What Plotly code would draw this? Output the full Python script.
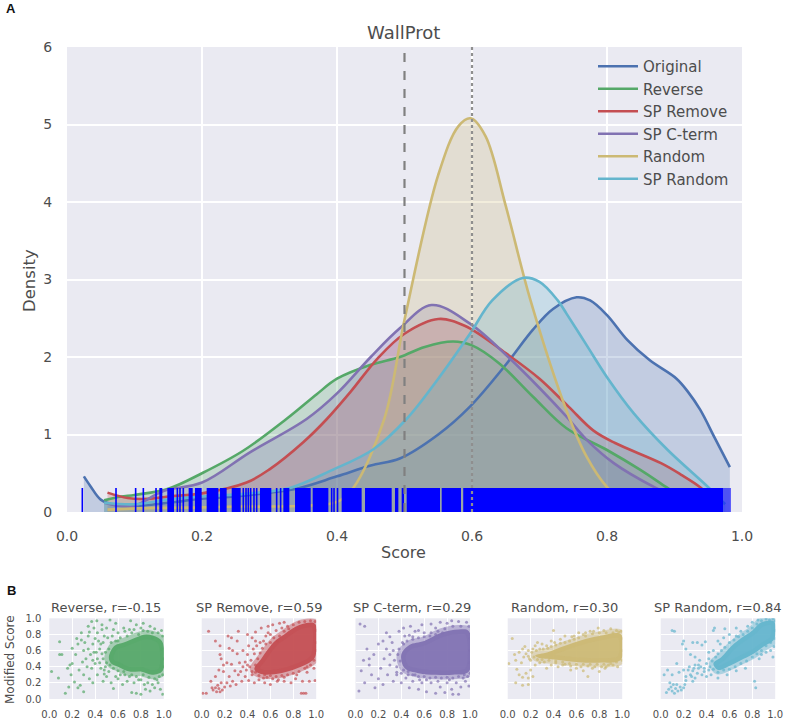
import plotly.graph_objects as go

W, H = 787, 722
COL = dict(Original="#4C72B0", Reverse="#55A868", SPRemove="#C44E52", SPCterm="#8172B2", Random="#CCB974", SPRandom="#64B5CD")

original_curve = [(.025,.46),(.035,.33),(.05,.16),(.07,.09),(.09,.07),(.12,.09),(.16,.13),(.2,.17),(.25,.2),(.3,.25),(.34,.3),(.4,.46),(.45,.6),(.493,.69),(.55,1.0),(.597,1.36),(.65,1.9),(.69,2.35),(.72,2.62),(.755,2.77),(.775,2.73),(.8,2.54),(.83,2.22),(.863,1.96),(.903,1.72),(.92,1.55),(.938,1.32),(.96,.95),(.982,.58)]
reverse_curve = [(.055,.15),(.08,.2),(.1,.22),(.15,.3),(.2,.5),(.261,.79),(.325,1.2),(.37,1.52),(.4,1.72),(.45,1.9),(.493,2.0),(.53,2.13),(.572,2.2),(.6,2.15),(.64,1.92),(.69,1.49),(.74,1.08),(.8,.8),(.85,.54),(.888,.32),(.92,.14),(.95,.03)]
spremove_curve = [(.06,.25),(.09,.18),(.12,.17),(.15,.2),(.2,.24),(.266,.38),(.3,.55),(.35,.9),(.385,1.2),(.42,1.55),(.46,1.98),(.5,2.3),(.55,2.49),(.59,2.4),(.65,2.05),(.7,1.72),(.743,1.36),(.78,1.05),(.812,.89),(.88,.63),(.91,.48),(.938,.32),(.965,.1)]
spcterm_curve = [(.055,.12),(.08,.08),(.1,.08),(.143,.27),(.2,.38),(.271,.77),(.355,1.2),(.4,1.53),(.45,2.0),(.493,2.37),(.54,2.67),(.597,2.43),(.656,1.98),(.7,1.6),(.74,1.23),(.77,.93),(.81,.63),(.87,.32),(.92,.12),(.95,.03)]
random_curve = [(.06,.03),(.12,.05),(.2,.06),(.25,.07),(.3,.07),(.35,.08),(.4,.13),(.424,.31),(.47,1.2),(.5,2.48),(.55,4.35),(.58,4.98),(.598,5.08),(.62,4.85),(.65,3.95),(.6867,2.73),(.74,1.31),(.77,.71),(.8,.32),(.83,.1),(.87,.02)]
sprandom_curve = [(.055,.12),(.1,.1),(.15,.16),(.2,.2),(.27,.24),(.33,.31),(.39,.53),(.454,.81),(.503,1.2),(.55,1.72),(.597,2.3),(.63,2.73),(.675,3.02),(.7,2.97),(.727,2.73),(.74,2.56),(.77,2.15),(.8,1.74),(.84,1.27),(.89,.8),(.95,.32),(.975,.1)]

rug_ticks = [.0227,.0726,.1017,.1131,.1319,.1635,.1674,.1723,.2612,.2652,.2686,.2721,.2770,.2810,.3106,.3165,.3921,.3956]
rug_span_start = [.1368,.1486,.1802,.1896,.2069,.2267,.2440,.2859,.3205,.3378,.3640,.3995,.4069,.4415,.4859,.4958,.5032,.5551,.587]
rug_span_end = [.1412,.1585,.1862,.1995,.2242,.2365,.2573,.3027,.3294,.3610,.3872,.4020,.4365,.4810,.4909,.4993,.5526,.5837,.9723]
rug_sparse_start = [.9723]
rug_sparse_end = [.9837]

reverse_core = [(.52,.52),(.57,.66),(.65,.7),(.75,.76),(.85,.8),(.95,.76),(.99,.7),(.99,.35),(.9,.3),(.8,.34),(.7,.34),(.6,.4),(.54,.44)]
reverse_pts = [(.02,.34),(.08,.26),(.09,.71),(.09,.55),(.11,.55),(.14,.07),(.17,.15),(.18,.42),(.2,.63),(.24,.75),(.27,.17),(.3,.09),(.34,.9),(.37,.96),(.415,.97),(.53,.98),(.71,.97),(.82,.94),(.16,.38),(.19,.3),(.22,.21),(.25,.14),(.2,.44),(.23,.55),(.25,.68),(.28,.73),(.3,.6),(.32,.5),(.26,.36),(.3,.3),(.35,.25),(.38,.2),(.33,.4),(.36,.55),(.38,.68),(.4,.75),(.34,.78),(.42,.82),(.46,.86),(.5,.88),(.44,.62),(.42,.5),(.45,.38),(.42,.3),(.47,.22),(.5,.28),(.54,.2),(.56,.13),(.6,.25),(.64,.18),(.68,.22),(.72,.08),(.76,.07),(.8,.06),(.84,.12),(.88,.1),(.92,.14),(.97,.12),(.99,.06),(.95,.2),(.74,.2),(.86,.2),(.56,.86),(.6,.82),(.65,.88),(.7,.86),(.76,.92),(.88,.9),(.92,.87),(.98,.85),(.52,.34),(.47,.7),(.37,.38),(.4,.44),(.29,.46),(.31,.7),(.28,.82),(.46,.92),(.58,.94),(.62,.3),(.66,.3),(.78,.24),(.83,.18),(.9,.18),(.35,.83),(.39,.88),(.43,.72),(.51,.76),(.48,.31),(.44,.45),
 (.47,.5),(.49,.58),(.5,.45),(.46,.56),(.52,.62),(.54,.7),(.58,.72),(.62,.76),(.68,.78),(.72,.82),(.78,.8),(.82,.85),(.86,.84),(.9,.82),(.95,.82),(.99,.78),(.98,.62),(1,.5),(1,.4),(.99,.3),(.96,.28),(.92,.25),(.87,.27),(.82,.3),(.76,.28),(.7,.28),(.65,.34),(.6,.35),(.56,.38),(.53,.42),(.49,.4),(.41,.58),(.38,.48),(.34,.62),(.45,.68),(.48,.78),(.55,.78),(.6,.72),(.66,.84),(.74,.86),(.8,.88),(.9,.76),(.94,.24),(.8,.24),(.72,.3),(.58,.28),(.48,.36),(.39,.58)]
spremove_core = [(.46,.37),(.52,.5),(.58,.62),(.64,.72),(.72,.8),(.8,.88),(.88,.93),(.99,.93),(.99,.52),(.94,.45),(.85,.39),(.75,.34),(.65,.31),(.52,.31)]
spremove_pts = [(.01,.07),(.04,.07),(.06,.84),(.12,.72),(.16,.66),(.16,.55),(.17,.5),(.23,.78),(.26,.76),(.31,.72),(.32,.84),(.4,.8),(.44,.76),(.47,.72),(.52,.88),(.58,.9),(.62,.92),(.68,.94),(.72,.95),(.75,.9),(.1,.11),(.12,.14),(.14,.17),(.16,.09),(.18,.11),(.15,.13),(.13,.09),(.2,.15),(.09,.14),(.17,.2),(.08,.22),(.12,.28),(.19,.34),(.22,.2),(.25,.16),(.27,.22),(.24,.28),(.3,.18),(.32,.3),(.29,.35),(.26,.43),(.22,.45),(.19,.42),(.15,.36),(.33,.45),(.36,.4),(.31,.56),(.27,.6),(.24,.63),(.36,.6),(.4,.55),(.41,.66),(.45,.62),(.38,.28),(.41,.23),(.46,.2),(.5,.24),(.55,.2),(.6,.18),(.66,.22),(.72,.22),(.78,.2),(.88,.22),(.94,.22),(.99,.23),(.82,.25),(.87,.07),(.89,.07),(.91,.07),(.47,.83),(.51,.7),(.56,.78),(.6,.8),(.65,.85),(.35,.22),(.39,.36),(.44,.3),(.98,.38),(.92,.33),(.72,.27),(.62,.25),(.54,.26),(.48,.66),(.43,.48),
 (.42,.4),(.44,.34),(.47,.42),(.49,.5),(.51,.57),(.53,.63),(.56,.68),(.6,.7),(.63,.76),(.68,.78),(.72,.84),(.76,.87),(.8,.92),(.85,.95),(.9,.96),(.95,.97),(.99,.96),(1,.85),(1,.7),(1,.6),(.98,.48),(.95,.42),(.9,.38),(.85,.34),(.8,.32),(.75,.3),(.7,.29),(.65,.28),(.6,.29),(.55,.3),(.5,.29),(.47,.33),(.4,.42),(.38,.46),(.46,.56),(.34,.34),(.54,.72),(.58,.82),(.66,.72),(.7,.88),(.83,.3),(.92,.4),(.57,.27),(.67,.24)]
spcterm_core = [(.4,.55),(.47,.67),(.6,.72),(.75,.82),(.9,.86),(.99,.84),(.99,.34),(.85,.3),(.7,.3),(.55,.32),(.43,.38)]
spcterm_pts = [(.03,.1),(.05,.35),(.08,.2),(.07,.48),(.1,.62),(.12,.5),(.14,.3),(.17,.14),(.2,.25),(.04,.93),(.08,.9),(.12,.42),(.16,.55),(.2,.68),(.22,.38),(.24,.18),(.25,.5),(.27,.62),(.28,.3),(.3,.42),(.32,.7),(.3,.77),(.33,.22),(.36,.3),(.27,.82),(.38,.84),(.42,.88),(.43,.78),(.48,.9),(.52,.84),(.58,.92),(.6,.82),(.66,.93),(.7,.88),(.74,.95),(.8,.94),(.84,.97),(.9,.96),(.97,.95),(.4,.2),(.44,.26),(.47,.14),(.5,.22),(.55,.12),(.58,.2),(.62,.09),(.66,.2),(.7,.07),(.74,.15),(.78,.08),(.8,.2),(.84,.12),(.88,.2),(.92,.15),(.96,.22),(.99,.16),(.9,.06),(.85,.06),(.52,.3),(.34,.48),(.36,.4),(.42,.68),(.5,.77),(.65,.78),(.94,.26),(.98,.28),(.72,.22),(.46,.3),(.3,.55),(.24,.72),
 (.37,.55),(.39,.47),(.38,.62),(.41,.7),(.45,.72),(.5,.74),(.55,.76),(.6,.77),(.66,.82),(.72,.84),(.78,.87),(.85,.9),(.92,.9),(.99,.9),(1,.75),(1,.6),(1,.45),(1,.32),(.95,.3),(.9,.28),(.85,.26),(.8,.27),(.75,.26),(.7,.27),(.65,.26),(.6,.28),(.55,.28),(.5,.3),(.46,.34),(.42,.36),(.4,.32),(.36,.33),(.33,.6),(.76,.82),(.82,.24),(.62,.24),(.56,.24),(.47,.79),(.55,.85),(.7,.8)]
random_core = [(.24,.54),(.35,.58),(.5,.66),(.65,.73),(.8,.78),(.99,.8),(.99,.49),(.8,.45),(.6,.46),(.4,.49),(.27,.51)]
random_pts = [(.01,.44),(.04,.75),(.06,.55),(.07,.48),(.08,.37),(.1,.3),(.07,.2),(.13,.17),(.18,.18),(.13,.27),(.16,.32),(.18,.26),(.2,.36),(.22,.28),(.1,.58),(.12,.45),(.14,.52),(.13,.62),(.15,.65),(.18,.6),(.2,.48),(.24,.42),(.28,.45),(.3,.68),(.24,.66),(.26,.7),(.34,.66),(.38,.72),(.4,.85),(.41,.7),(.46,.74),(.5,.78),(.48,.42),(.44,.4),(.38,.42),(.34,.38),(.55,.36),(.6,.38),(.66,.35),(.7,.28),(.8,.34),(.85,.38),(.58,.78),(.62,.82),(.66,.8),(.72,.84),(.79,.88),(.84,.85),(.9,.87),(.95,.85),(.99,.84),(.92,.42),(.96,.4),(.74,.38),(.55,.41),(.32,.46),(.22,.62),(.18,.53),(.42,.45),(.75,.84),(.82,.4),(.88,.42),
 (.16,.56),(.19,.5),(.21,.58),(.25,.6),(.28,.62),(.31,.62),(.35,.63),(.38,.65),(.42,.67),(.46,.69),(.5,.7),(.54,.72),(.58,.74),(.62,.76),(.68,.78),(.74,.81),(.8,.82),(.86,.82),(.92,.82),(.97,.83),(1,.75),(1,.6),(1,.48),(.95,.46),(.9,.44),(.84,.43),(.78,.43),(.72,.43),(.66,.43),(.6,.43),(.54,.44),(.48,.46),(.42,.47),(.36,.48),(.3,.49),(.26,.49),(.23,.52),(.7,.41),(.64,.4),(.5,.43),(.76,.4),(.86,.4),(.68,.82),(.56,.77)]
sprandom_core = [(.46,.44),(.53,.52),(.62,.66),(.72,.77),(.8,.85),(.88,.95),(.99,.96),(.99,.74),(.9,.65),(.8,.55),(.7,.48),(.6,.41),(.5,.36)]
sprandom_pts = [(.05,.08),(.07,.12),(.09,.15),(.1,.1),(.12,.07),(.13,.13),(.15,.1),(.17,.15),(.18,.11),(.2,.14),(.11,.18),(.08,.2),(.14,.18),(.21,.18),(.03,.3),(.06,.36),(.1,.3),(.14,.44),(.16,.33),(.2,.36),(.22,.28),(.26,.3),(.28,.35),(.3,.26),(.25,.4),(.3,.42),(.33,.38),(.28,.22),(.22,.23),(.32,.32),(.35,.4),(.36,.3),(.34,.48),(.38,.34),(.4,.28),(.3,.52),(.26,.55),(.22,.62),(.19,.68),(.2,.72),(.28,.7),(.32,.7),(.36,.67),(.39,.71),(.1,.85),(.12,.84),(.47,.88),(.46,.85),(.56,.87),(.66,.88),(.5,.72),(.55,.76),(.6,.8),(.66,.78),(.7,.84),(.76,.9),(.8,.95),(.85,.98),(.92,.99),(.98,.99),(.82,.22),(.83,.14),(.96,.6),(.99,.65),(.98,.52),(.86,.5),(.74,.38),(.66,.35),(.58,.3),(.5,.26),(.44,.3),(.42,.5),(.4,.44),(.46,.6),(.42,.58),(.52,.68),(.88,.55),(.92,.58),
 (.43,.4),(.45,.47),(.48,.52),(.5,.56),(.53,.6),(.56,.64),(.6,.7),(.64,.73),(.68,.77),(.72,.8),(.76,.84),(.8,.88),(.84,.93),(.88,.97),(.95,.98),(1,.97),(1,.85),(1,.75),(.96,.7),(.92,.66),(.88,.6),(.84,.56),(.8,.52),(.75,.47),(.7,.44),(.65,.4),(.6,.37),(.55,.36),(.5,.33),(.46,.37),(.42,.36),(.38,.38),(.33,.42),(.29,.38),(.24,.36),(.27,.28)]

panels = [("Reverse, r=-0.15", "Reverse", reverse_core, reverse_pts),
          ("SP Remove, r=0.59", "SPRemove", spremove_core, spremove_pts),
          ("SP C-term, r=0.29", "SPCterm", spcterm_core, spcterm_pts),
          ("Random, r=0.30", "Random", random_core, random_pts),
          ("SP Random, r=0.84", "SPRandom", sprandom_core, sprandom_pts)]
curves = [("Original", "Original", original_curve), ("Reverse", "Reverse", reverse_curve),
          ("SP Remove", "SPRemove", spremove_curve), ("SP C-term", "SPCterm", spcterm_curve),
          ("Random", "Random", random_curve), ("SP Random", "SPRandom", sprandom_curve)]

FONT = "DejaVu Sans"
TXT = "#4d4d4d"
BG = "#EAEAF2"

def rgba(h, a):
    return "rgba(%d,%d,%d,%s)" % (int(h[1:3], 16), int(h[3:5], 16), int(h[5:7], 16), a)

fig = go.Figure()
for name, key, c in curves:
    xs, ys = zip(*c)
    fig.add_trace(go.Scatter(x=xs, y=ys, mode="none", fill="tozeroy", fillcolor=rgba(COL[key], .25),
                             line=dict(shape="spline"), showlegend=False, hoverinfo="skip"))
for name, key, c in curves:
    xs, ys = zip(*c)
    fig.add_trace(go.Scatter(x=xs, y=ys, mode="lines", name=name, legendgroup=name,
                             line=dict(color=COL[key], width=2.6, shape="spline", smoothing=1)))

RUG_TOP = 0.31
def spans(starts, ends):
    xs, ys = [], []
    for a, b in zip(starts, ends):
        xs += [a, b, b, a, a, None]
        ys += [0, 0, RUG_TOP, RUG_TOP, 0, None]
    return xs, ys
rx, ry = spans(rug_span_start, rug_span_end)
fig.add_trace(go.Scatter(x=rx, y=ry, mode="none", fill="toself", fillcolor="#0000FF", showlegend=False, hoverinfo="skip"))
rx, ry = spans(rug_sparse_start, rug_sparse_end)
fig.add_trace(go.Scatter(x=rx, y=ry, mode="none", fill="toself", fillcolor="rgba(0,0,255,.6)", showlegend=False, hoverinfo="skip"))
tx, ty = [], []
for t in rug_ticks:
    tx += [t, t, None]
    ty += [0, RUG_TOP, None]
fig.add_trace(go.Scatter(x=tx, y=ty, mode="lines", line=dict(color="#0000FF", width=1.6), showlegend=False, hoverinfo="skip"))
for v, d, c in ((.5, "dash", "#808080"), (.6, "dot", "#8f8f8f")):
    fig.add_trace(go.Scatter(x=[v, v], y=[0, 6], mode="lines", line=dict(color=c, width=2.2, dash=d),
                             showlegend=False, hoverinfo="skip"))

fig.update_layout(
    width=W, height=H, margin=dict(l=0, r=0, t=0, b=0, autoexpand=False), paper_bgcolor="white", plot_bgcolor=BG,
    font=dict(family=FONT, color=TXT),
    legend=dict(x=593/W, y=1-50/H, xanchor="left", yanchor="top", bgcolor="rgba(0,0,0,0)",
                font=dict(size=15, color=TXT), tracegroupgap=0, itemwidth=40),
    xaxis=dict(domain=[67/W, 742/W], range=[0, 1], tickvals=[0, .2, .4, .6, .8, 1], automargin=False,
               ticktext=["0.0", "0.2", "0.4", "0.6", "0.8", "1.0"], gridcolor="white", gridwidth=1.5,
               zeroline=False, showline=False, ticks="outside", ticklen=11, tickcolor="rgba(0,0,0,0)", tickfont=dict(size=14, color=TXT)),
    yaxis=dict(domain=[1-512/H, 1-47/H], range=[0, 6], tickvals=list(range(7)), gridcolor="white", gridwidth=1.5, automargin=False,
               zeroline=False, showline=False, ticks="outside", ticklen=11, tickcolor="rgba(0,0,0,0)", tickfont=dict(size=14, color=TXT)),
)
def label(text, x, y, size, color=TXT, family=FONT, angle=0):
    fig.add_annotation(text=text, xref="paper", yref="paper", x=x/W, y=1-y/H, showarrow=False, xanchor="center", yanchor="middle",
                       textangle=angle, font=dict(size=size, color=color, family=family))
label("WallProt", 404, 32, 18)
label("Score", 404, 552, 16)
label("Density", 29, 280, 16.5, angle=-90)
label("<b>A</b>", 11, 9, 13, "#111111", "Liberation Sans")
label("<b>B</b>", 11, 590, 13, "#111111", "Liberation Sans")

left = [49.3, 201.7, 355.5, 507.7, 660.7]
for i, (title, key, core, pts) in enumerate(panels):
    n = i + 2
    cx, cy = zip(*core)
    px, py = zip(*pts)
    fig.add_trace(go.Scatter(x=list(cx)+[cx[0]], y=list(cy)+[cy[0]], xaxis=f"x{n}", yaxis=f"y{n}", mode="lines",
                             fill="toself", fillcolor=rgba(COL[key], .95), line=dict(color=rgba(COL[key], .45), width=9, shape="spline"),
                             showlegend=False, hoverinfo="skip"))
    fig.add_trace(go.Scatter(x=px, y=py, xaxis=f"x{n}", yaxis=f"y{n}", mode="markers",
                             marker=dict(color=COL[key], size=3, opacity=.7, line=dict(width=0)),
                             showlegend=False, hoverinfo="skip", cliponaxis=True))
    tv = [0, .2, .4, .6, .8, 1]
    tt = ["0.0", "0.2", "0.4", "0.6", "0.8", "1.0"]
    fig.update_layout(**{
        f"xaxis{n}": dict(domain=[left[i]/W, (left[i]+114.5)/W], range=[0, 1], anchor=f"y{n}", tickvals=tv, ticktext=tt, automargin=False,
                          gridcolor="white", gridwidth=1, zeroline=False, showline=False, ticks="outside", ticklen=6, tickcolor="rgba(0,0,0,0)",
                          tickangle=0, tickfont=dict(size=10, color=TXT)),
        f"yaxis{n}": dict(domain=[1-699/H, 1-618.3/H], range=[0, 1], anchor=f"x{n}", tickvals=tv, automargin=False,
                          ticktext=tt if i == 0 else [""]*6, gridcolor="white", gridwidth=1, zeroline=False,
                          showline=False, ticks="outside", ticklen=5, tickcolor="rgba(0,0,0,0)", tickfont=dict(size=10, color=TXT)),
    })
    label(title, left[i]+57, 607, 13)
label("Modified Score", 10, 660, 12, angle=-90)

fig.write_html("out.html", post_script="document.body.style.margin='0';", config=dict(displayModeBar=False))
